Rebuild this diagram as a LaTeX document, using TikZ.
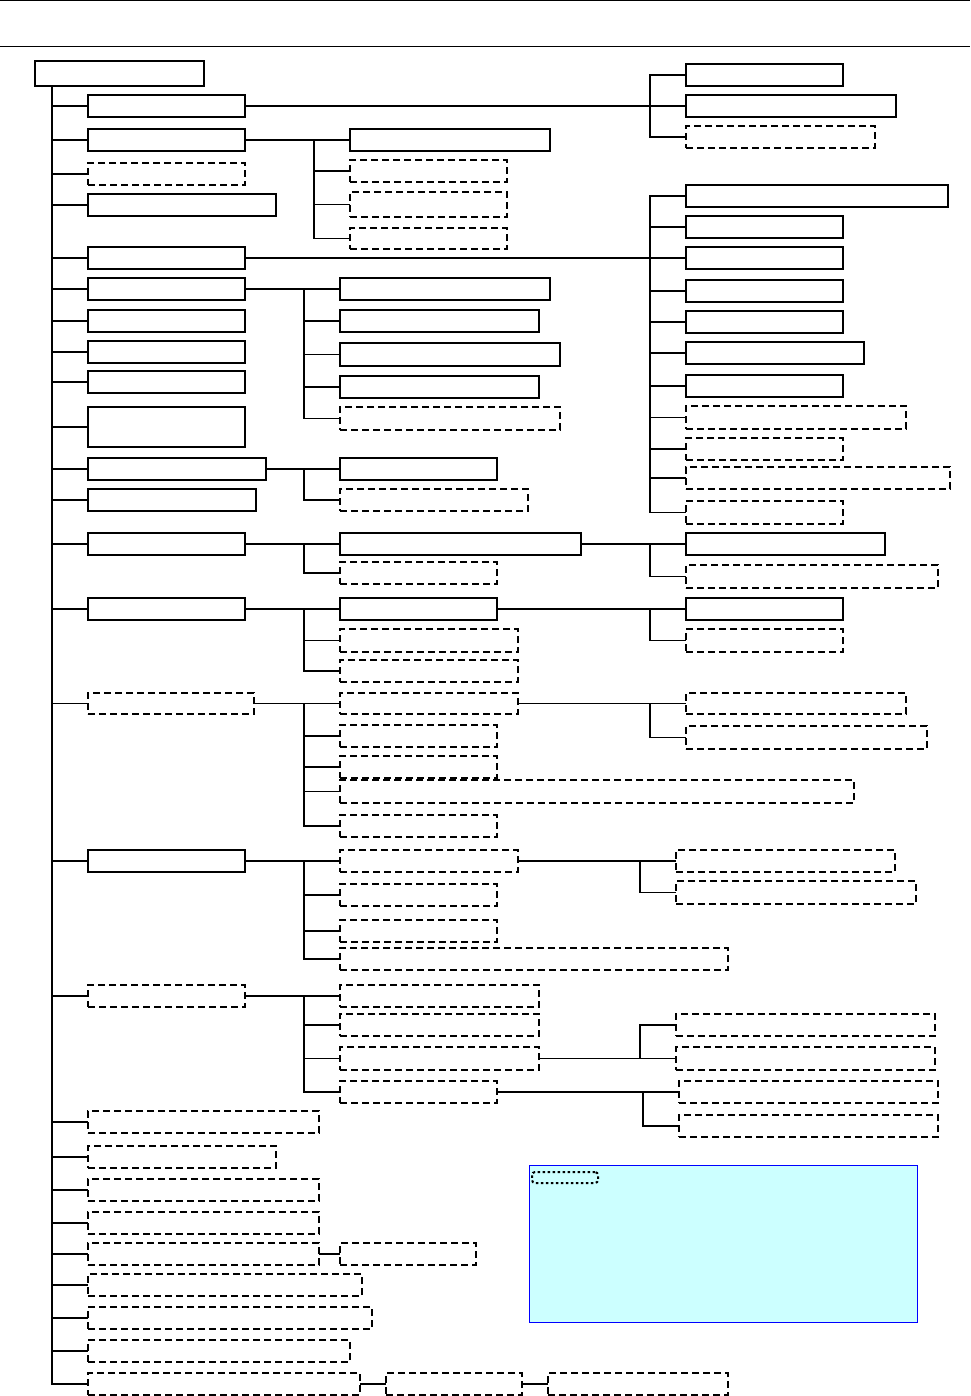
\documentclass[tikz,border=0pt]{standalone}
\usetikzlibrary{fit}
\definecolor{legfill}{HTML}{CCFFFF}
\definecolor{legline}{HTML}{0000FF}
\tikzset{
  sbox/.style={draw=black, line width=1.6pt, inner sep=0pt, outer sep=0pt, fill=white},
  dbox/.style={draw=black, line width=1.3pt, dash pattern=on 7pt off 4pt, inner sep=0pt, outer sep=0pt, fill=white},
  conn/.style={draw=black, line width=1.4pt},
  trunk/.style={draw=black, line width=1.4pt},
  spine/.style={draw=black, line width=2.4pt},
  legend/.style={draw=legline, line width=1pt, fill=legfill, inner sep=0pt, outer sep=0pt},
  legkey/.style={draw=black, line width=2pt, dash pattern=on 2.5pt off 2.5pt, rounded corners=3pt, inner sep=0pt, outer sep=0pt},
  rule/.style={draw=black, line width=1pt}
}
\newcommand\bx[6]{\node[#1, fit={(#3,#4)(#5,#6)}] (#2) {};}
\newcommand\cn[2]{\draw[conn] (#1.east) -| ([xshift=-36pt]#2.west) -- (#2.west);}
\newcommand\tk[1]{\draw[trunk] ([xshift=17pt]r.south west) |- (#1.west);}
\begin{document}
\begin{tikzpicture}[x=1pt,y=-1pt]
\useasboundingbox (0,0) rectangle (970,1396);
\coordinate (tl) at (0,0.5); \coordinate (tr) at (970,0.5);
\coordinate (ml) at (0,47); \coordinate (mr) at (970,47);
\draw[rule] (tl) -- (tr);
\draw[rule] (ml) -- (mr);
% root
\bx{sbox}{r}{35}{61}{204}{86}
% level 1
\bx{sbox}{a1}{88}{95}{245}{117}
\bx{sbox}{a2}{88}{129}{245}{151}
\bx{dbox}{a3}{88}{163}{245}{185}
\bx{sbox}{a4}{88}{194}{276}{216}
\bx{sbox}{a5}{88}{247}{245}{269}
\bx{sbox}{a6}{88}{278}{245}{300}
\bx{sbox}{a7}{88}{310}{245}{332}
\bx{sbox}{a8}{88}{341}{245}{363}
\bx{sbox}{a9}{88}{371}{245}{393}
\bx{sbox}{a10}{88}{407}{245}{447}
\bx{sbox}{a11}{88}{458}{266}{480}
\bx{sbox}{a12}{88}{489}{256}{511}
\bx{sbox}{a13}{88}{533}{245}{555}
\bx{sbox}{a14}{88}{598}{245}{620}
\bx{dbox}{a15}{88}{693}{254}{714}
\bx{sbox}{a16}{88}{850}{245}{872}
\bx{dbox}{a17}{88}{985}{245}{1007}
\bx{dbox}{a18}{88}{1111}{319}{1133}
\bx{dbox}{a19}{88}{1146}{276}{1168}
\bx{dbox}{a20}{88}{1179}{319}{1201}
\bx{dbox}{a21}{88}{1212}{319}{1234}
\bx{dbox}{a22}{88}{1243}{319}{1265}
\bx{dbox}{a23}{88}{1274}{362}{1296}
\bx{dbox}{a24}{88}{1307}{372}{1329}
\bx{dbox}{a25}{88}{1340}{350}{1362}
\bx{dbox}{a26}{88}{1373}{360}{1395}
\foreach \i in {1,...,26} {\tk{a\i}}
\draw[spine] ([xshift=17pt]r.south west) |- (a26.west);
% a1 children
\bx{sbox}{a1a}{686}{64}{843}{86}
\bx{sbox}{a1b}{686}{95}{896}{117}
\bx{dbox}{a1c}{686}{126}{875}{148}
\cn{a1}{a1a}\cn{a1}{a1b}\cn{a1}{a1c}
% a2 children
\bx{sbox}{a2a}{350}{129}{550}{151}
\bx{dbox}{a2b}{350}{160}{507}{182}
\bx{dbox}{a2c}{350}{192}{507}{217}
\bx{dbox}{a2d}{350}{228}{507}{249}
\cn{a2}{a2a}\cn{a2}{a2b}\cn{a2}{a2c}\cn{a2}{a2d}
% a5 children
\bx{sbox}{a5a}{686}{185}{948}{207}
\bx{sbox}{a5b}{686}{216}{843}{238}
\bx{sbox}{a5c}{686}{247}{843}{269}
\bx{sbox}{a5d}{686}{280}{843}{302}
\bx{sbox}{a5e}{686}{311}{843}{333}
\bx{sbox}{a5f}{686}{342}{864}{364}
\bx{sbox}{a5g}{686}{375}{843}{397}
\bx{dbox}{a5h}{686}{406}{906}{429}
\bx{dbox}{a5i}{686}{438}{843}{460}
\bx{dbox}{a5j}{686}{467}{950}{489}
\bx{dbox}{a5k}{686}{501}{843}{524}
\foreach \c in {a,b,c,d,e,f,g,h,i,j,k} {\cn{a5}{a5\c}}
% a6 children
\bx{sbox}{a6a}{340}{278}{550}{300}
\bx{sbox}{a6b}{340}{310}{539}{332}
\bx{sbox}{a6c}{340}{343}{560}{366}
\bx{sbox}{a6d}{340}{376}{539}{398}
\bx{dbox}{a6e}{340}{407}{560}{430}
\foreach \c in {a,b,c,d,e} {\cn{a6}{a6\c}}
% a11 children
\bx{sbox}{a11a}{340}{458}{497}{480}
\bx{dbox}{a11b}{340}{489}{528}{511}
\cn{a11}{a11a}\cn{a11}{a11b}
% a13 children
\bx{sbox}{a13a}{340}{533}{581}{555}
\bx{dbox}{a13b}{340}{562}{497}{584}
\cn{a13}{a13a}\cn{a13}{a13b}
\bx{sbox}{a13c}{686}{533}{885}{555}
\bx{dbox}{a13d}{686}{565}{938}{588}
\cn{a13a}{a13c}\cn{a13a}{a13d}
% a14 children
\bx{sbox}{a14a}{340}{598}{497}{620}
\bx{dbox}{a14b}{340}{629}{518}{652}
\bx{dbox}{a14c}{340}{660}{518}{682}
\cn{a14}{a14a}\cn{a14}{a14b}\cn{a14}{a14c}
\bx{sbox}{a14d}{686}{598}{843}{620}
\bx{dbox}{a14e}{686}{629}{843}{652}
\cn{a14a}{a14d}\cn{a14a}{a14e}
% a15 children
\bx{dbox}{a15a}{340}{693}{518}{714}
\bx{dbox}{a15b}{340}{725}{497}{747}
\bx{dbox}{a15c}{340}{756}{497}{778}
\bx{dbox}{a15d}{340}{780}{854}{803}
\bx{dbox}{a15e}{340}{815}{497}{837}
\foreach \c in {a,b,c,d,e} {\cn{a15}{a15\c}}
\bx{dbox}{a15f}{686}{693}{906}{714}
\bx{dbox}{a15g}{686}{726}{927}{749}
\cn{a15a}{a15f}\cn{a15a}{a15g}
% a16 children
\bx{dbox}{a16a}{340}{850}{518}{872}
\bx{dbox}{a16b}{340}{884}{497}{906}
\bx{dbox}{a16c}{340}{920}{497}{942}
\bx{dbox}{a16d}{340}{948}{728}{970}
\foreach \c in {a,b,c,d} {\cn{a16}{a16\c}}
\bx{dbox}{a16e}{676}{850}{895}{872}
\bx{dbox}{a16f}{676}{881}{916}{904}
\cn{a16a}{a16e}\cn{a16a}{a16f}
% a17 children
\bx{dbox}{a17a}{340}{985}{539}{1007}
\bx{dbox}{a17b}{340}{1014}{539}{1036}
\bx{dbox}{a17c}{340}{1047}{539}{1070}
\bx{dbox}{a17d}{340}{1081}{497}{1103}
\foreach \c in {a,b,c,d} {\cn{a17}{a17\c}}
\bx{dbox}{a17e}{676}{1014}{935}{1036}
\bx{dbox}{a17f}{676}{1047}{935}{1070}
\cn{a17c}{a17e}\cn{a17c}{a17f}
\bx{dbox}{a17g}{679}{1081}{938}{1103}
\bx{dbox}{a17h}{679}{1115}{938}{1137}
\cn{a17d}{a17g}\cn{a17d}{a17h}
% a22, a26 chains
\bx{dbox}{a22a}{340}{1243}{476}{1265}
\draw[conn] (a22.east) -- (a22a.west);
\bx{dbox}{a26a}{386}{1373}{522}{1395}
\bx{dbox}{a26b}{548}{1373}{728}{1395}
\draw[conn] (a26.east) -- (a26a.west);
\draw[conn] (a26a.east) -- (a26b.west);
% legend
\bx{legend}{lg}{529}{1165}{917}{1322}
\bx{legkey}{lgk}{532}{1172}{598}{1183}
\end{tikzpicture}
\end{document}
